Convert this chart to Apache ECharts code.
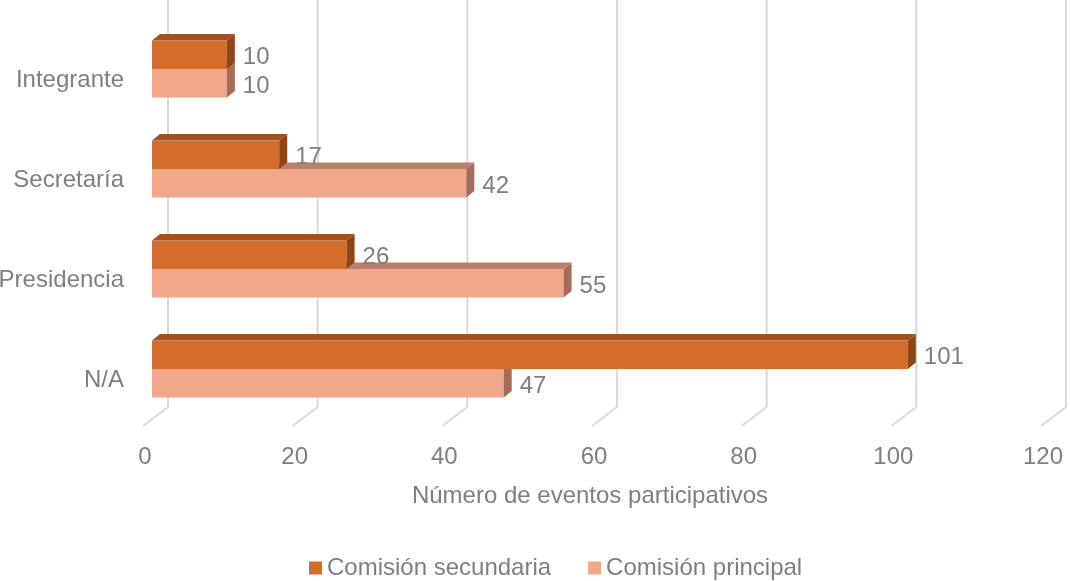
<!DOCTYPE html>
<html>
<head>
<meta charset="utf-8">
<script src="https://cdn.jsdelivr.net/npm/echarts@6/dist/echarts.min.js"></script>
<style>
  html, body { margin: 0; padding: 0; background: #ffffff; }
  #chart { width: 1070px; height: 581px; }
</style>
</head>
<body>
<div id="chart"></div>
<script>
// Categories, listed top to bottom
const categories = ['Integrante', 'Secretaría', 'Presidencia', 'N/A'];
// Series values
const secundaria = [10, 17, 26, 101];
const principal = [10, 42, 55, 47];
// Value-axis ticks
const xTicks = [0, 20, 40, 60, 80, 100, 120];

const FONT = '"Liberation Sans", Arial, sans-serif';
const TEXT_COLOR = '#7f7f7f';
const FONT_SIZE = 24;

// Depth offsets of the pseudo-3D box
const BAR_DX = 8, BAR_DY = 6.5;     // bar thickness in depth
const BACK_DX = 16, BACK_DY = 12;   // bar plane -> back wall
const FRONT_DX = 9, FRONT_DY = 7;   // bar plane -> front edge of floor

// Draws one extruded bar (front face, top face, side face) plus its value text
function makeBar(colors, above) {
  return function (params, api) {
    const cat = api.value(1);
    const val = api.value(0);
    const p0 = api.coord([0, cat]);
    const p1 = api.coord([val, cat]);
    const band = api.size([0, 1])[1];
    const h = band * 0.285;
    const x0 = p0[0], x1 = p1[0];
    const y0 = above ? p0[1] - h : p0[1];
    return {
      type: 'group',
      children: [
        {
          type: 'polygon',
          shape: { points: [[x0, y0], [x0 + BAR_DX, y0 - BAR_DY], [x1 + BAR_DX, y0 - BAR_DY], [x1, y0]] },
          style: { fill: colors.top }
        },
        {
          type: 'rect',
          shape: { x: x0, y: y0, width: x1 - x0, height: h },
          style: { fill: colors.front }
        },
        {
          type: 'polygon',
          shape: { points: [[x1, y0], [x1 + BAR_DX, y0 - BAR_DY], [x1 + BAR_DX, y0 + h - BAR_DY], [x1, y0 + h]] },
          style: { fill: colors.side }
        },
        {
          type: 'text',
          style: {
            text: String(val),
            x: x1 + 16,
            y: y0 + h / 2 + 3,
            fill: TEXT_COLOR,
            font: FONT_SIZE + 'px ' + FONT,
            verticalAlign: 'middle',
            align: 'left'
          }
        }
      ]
    };
  };
}

// Back-wall gridlines with their floor diagonals
function gridItem(params, api) {
  const x = api.coord([api.value(0), 0])[0];
  const cs = params.coordSys;
  const bottom = cs.y + cs.height;
  const style = { stroke: '#d9d9d9', lineWidth: 2 };
  return {
    type: 'group',
    children: [
      { type: 'line', shape: { x1: x + BACK_DX, y1: 0, x2: x + BACK_DX, y2: bottom - BACK_DY }, style: style },
      { type: 'line', shape: { x1: x + BACK_DX, y1: bottom - BACK_DY, x2: x - FRONT_DX, y2: bottom + FRONT_DY }, style: style }
    ]
  };
}

const secColors = { front: '#d46c2b', top: '#a3521f', side: '#8c4618' };
const priColors = { front: '#f1a78a', top: '#b98069', side: '#a16e5c' };

const chart = echarts.init(document.getElementById('chart'), null, { renderer: 'canvas' });

chart.setOption({
  animation: false,
  backgroundColor: '#ffffff',
  textStyle: { fontFamily: FONT },
  grid: { left: 152, right: 20, top: 19, bottom: 162, containLabel: false, outerBoundsMode: 'none' },
  legend: {
    data: ['Comisión secundaria', 'Comisión principal'],
    left: 304,
    top: 551,
    icon: 'rect',
    itemWidth: 13,
    itemHeight: 13,
    itemGap: 37,
    textStyle: { fontSize: FONT_SIZE, color: TEXT_COLOR, fontFamily: FONT }
  },
  xAxis: {
    type: 'value',
    min: 0,
    max: 120,
    interval: 20,
    axisLine: { show: false },
    axisTick: { show: false },
    splitLine: { show: false },
    axisLabel: {
      color: TEXT_COLOR,
      fontSize: FONT_SIZE,
      fontFamily: FONT,
      margin: 26,
      padding: [0, 14, 0, 0]
    },
    name: 'Número de eventos participativos',
    nameLocation: 'middle',
    nameGap: 65,
    nameTextStyle: { color: TEXT_COLOR, fontSize: FONT_SIZE, fontFamily: FONT, padding: [0, 22, 0, 0] }
  },
  yAxis: {
    type: 'category',
    data: categories,
    inverse: true,
    axisLine: { show: false },
    axisTick: { show: false },
    splitLine: { show: false },
    axisLabel: {
      color: TEXT_COLOR,
      fontSize: FONT_SIZE,
      fontFamily: FONT,
      margin: 28,
      verticalAlign: 'top',
      lineHeight: 22
    }
  },
  series: [
    {
      type: 'custom',
      silent: true,
      renderItem: gridItem,
      encode: { x: 0, y: 1 },
      data: xTicks.map(function (t) { return [t, 0]; }),
      z: 1
    },
    {
      name: 'Comisión principal',
      type: 'custom',
      renderItem: makeBar(priColors, false),
      itemStyle: { color: priColors.front },
      encode: { x: 0, y: 1 },
      data: principal.map(function (v, i) { return [v, i]; }),
      z: 2
    },
    {
      name: 'Comisión secundaria',
      type: 'custom',
      renderItem: makeBar(secColors, true),
      itemStyle: { color: secColors.front },
      encode: { x: 0, y: 1 },
      data: secundaria.map(function (v, i) { return [v, i]; }),
      z: 3
    }
  ]
});
</script>
</body>
</html>
